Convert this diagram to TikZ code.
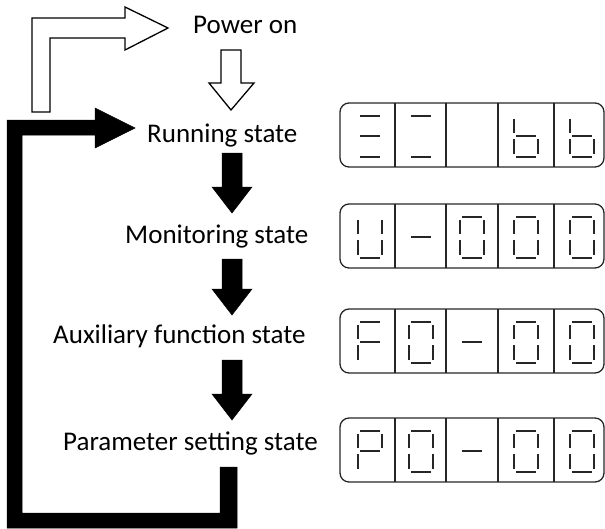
\documentclass[tikz,border=0pt]{standalone}
\usepackage{fontspec}
\setmainfont{Carlito}
\newcommand{\sega}{\draw[seg] (-10,-20) -- (10,-20);}
\newcommand{\segb}{\draw[seg] (12,-17) -- (12,-3);}
\newcommand{\segc}{\draw[seg] (12,3) -- (12,18);}
\newcommand{\segd}{\draw[seg] (-10,21) -- (10,21);}
\newcommand{\sege}{\draw[seg] (-12,3) -- (-12,18);}
\newcommand{\segf}{\draw[seg] (-12,-17) -- (-12,-3);}
\newcommand{\segg}{\draw[seg] (-10,0) -- (10,0);}
\newcommand{\segdigit}[3]{%
  \begin{scope}[shift={(#1,#2)}]
    \foreach \s in {#3} {\csname seg\s\endcsname}
  \end{scope}}
\newcommand{\segdisplay}[6]{%
  \draw[dispbox] (340,#1) rectangle (604,#1+64);
  \foreach \xd in {395,446,498,554} \draw[dispbox] (\xd,#1) -- (\xd,#1+64);
  \segdigit{370}{#1+33}{#2}
  \segdigit{421}{#1+33}{#3}
  \segdigit{472}{#1+33}{#4}
  \segdigit{526}{#1+33}{#5}
  \segdigit{582}{#1+33}{#6}}
\begin{document}
\begin{tikzpicture}[x=1pt,y=-1pt,
  seg/.style={line width=1.8pt,draw=black!85},
  dispbox/.style={line width=1.3pt,draw=black!85,rounded corners=9pt},
  state/.style={anchor=base west,inner sep=0pt,font=\fontsize{27}{32}\selectfont},
  hollow/.style={draw=black,line width=1.3pt,fill=white,line join=miter},
  solid/.style={fill=black,draw=black,line width=0.5pt}]
\useasboundingbox (0,0) rectangle (605,528);
% state labels
\node[state] (pwr) at (193,33) {Power on};
\node[state] (run) at (147,142) {Running state};
\node[state] (mon) at (125,243) {Monitoring state};
\node[state] (aux) at (53,343) {Auxiliary function state};
\node[state] (par) at (63,450) {Parameter setting state};
% hollow arrows
\draw[hollow] (32,112) -- (32,18) -- (125,18) -- (125,7) -- (168,28) -- (125,50) -- (125,38) -- (50,38) -- (50,112) -- cycle;
\draw[hollow] (221,50) -- (241,50) -- (241,83) -- (254,83) -- (231,110) -- (209,83) -- (221,83) -- cycle;
% black arrows
\draw[solid] (222,153) -- (242,153) -- (242,187) -- (252,187) -- (232,213) -- (212,187) -- (222,187) -- cycle;
\draw[solid] (222,259) -- (242,259) -- (242,289) -- (252,289) -- (232,315) -- (212,289) -- (222,289) -- cycle;
\draw[solid] (222,360) -- (242,360) -- (242,394) -- (252,394) -- (232,420) -- (212,394) -- (222,394) -- cycle;
% loop back
\draw[solid] (220,467) -- (237,467) -- (237,528) -- (7,528) -- (7,120) -- (95,120) -- (95,108) -- (135,128) -- (95,148) -- (95,135) -- (22,135) -- (22,513) -- (220,513) -- cycle;
% displays
\segdisplay{103}{a,g,d}{a,d}{}{f,e,g,c,d}{f,e,g,c,d}
\segdisplay{204}{f,e,d,c,b}{g}{a,b,c,d,e,f}{a,b,c,d,e,f}{a,b,c,d,e,f}
\segdisplay{309}{a,f,g,e}{a,b,c,d,e,f}{g}{a,b,c,d,e,f}{a,b,c,d,e,f}
\segdisplay{418}{a,b,f,g,e}{a,b,c,d,e,f}{g}{a,b,c,d,e,f}{a,b,c,d,e,f}
\end{tikzpicture}
\end{document}
